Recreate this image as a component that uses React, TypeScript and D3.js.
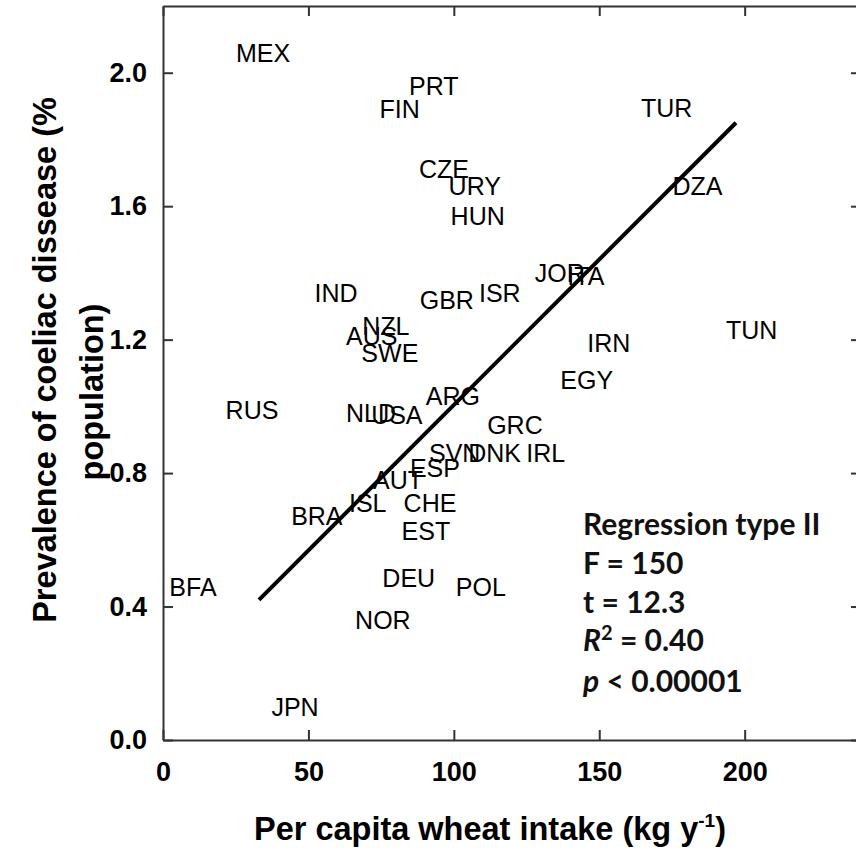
import React, { useEffect, useRef } from 'react';
import * as d3 from 'd3';

// country codes, wheat intake (kg/y) and coeliac prevalence (%)
const countries = ['MEX', 'PRT', 'FIN', 'TUR', 'CZE', 'URY', 'DZA', 'HUN', 'IND', 'GBR', 'ISR', 'JOR', 'ITA', 'NZL', 'AUS', 'SWE', 'TUN', 'IRN', 'EGY', 'RUS', 'ARG', 'NLD', 'USA', 'GRC', 'SVN', 'DNK', 'IRL', 'ESP', 'AUT', 'ISL', 'CHE', 'BRA', 'EST', 'DEU', 'POL', 'BFA', 'NOR', 'JPN'];
const wheat = [34.4, 93.1, 81.4, 173.2, 96.6, 107.2, 183.8, 108.2, 59.5, 97.6, 115.8, 136.4, 145.4, 76.6, 71.8, 78, 202.4, 153.3, 145.7, 30.6, 99.7, 71.5, 80.4, 121, 100.3, 114, 131.6, 93.5, 80.8, 70.4, 91.8, 52.9, 90.4, 84.5, 109.3, 10.3, 75.6, 45.4];
const prevalence = [2.06, 1.96, 1.89, 1.895, 1.71, 1.66, 1.66, 1.57, 1.34, 1.32, 1.34, 1.40, 1.39, 1.24, 1.21, 1.16, 1.23, 1.19, 1.08, 0.99, 1.03, 0.98, 0.975, 0.945, 0.86, 0.86, 0.86, 0.815, 0.78, 0.71, 0.71, 0.67, 0.627, 0.486, 0.46, 0.46, 0.36, 0.10];

// regression (type II) line ends
const lineX = [33, 197];
const lineY = [0.42, 1.85];

const xTicks = [0, 50, 100, 150, 200];
const yTicks = [0, 0.4, 0.8, 1.2, 1.6, 2.0];

export default function App() {
    const ref = useRef<SVGSVGElement>(null);

    useEffect(() => {
        const width = 856, height = 849;
        const margin = { top: 6, right: -5, bottom: 109, left: 163 };

        const x = d3.scaleLinear().domain([0, 240]).range([margin.left, width - margin.right]);
        const y = d3.scaleLinear().domain([0, 2.2]).range([height - margin.bottom, margin.top]);

        const svg = d3.select(ref.current);
        svg.selectAll('*').remove();

        const axisStyle = (g: any) => {
            g.select('.domain').attr('stroke', '#333').attr('stroke-width', 2);
            g.selectAll('.tick line').attr('stroke', '#333').attr('stroke-width', 2);
            g.selectAll('.tick text')
                .attr('fill', '#000')
                .attr('font-family', 'Liberation Sans, Arial, sans-serif')
                .attr('font-weight', 'bold')
                .attr('font-size', 27);
        };

        svg.append('g')
            .attr('transform', `translate(0,${y(0)})`)
            .call(d3.axisBottom(x).tickValues(xTicks).tickSize(-10).tickPadding(22).tickSizeOuter(0).tickFormat(d3.format('d')))
            .call(axisStyle);

        svg.append('g')
            .attr('transform', `translate(${x(0)},0)`)
            .call(d3.axisLeft(y).tickValues(yTicks).tickSize(-10).tickPadding(16).tickSizeOuter(0).tickFormat(d3.format('.1f')))
            .call(axisStyle);

        svg.append('g')
            .attr('transform', `translate(0,${y(2.2)})`)
            .call(d3.axisTop(x).tickValues(xTicks).tickSize(-10).tickSizeOuter(0).tickFormat(() => ''))
            .call(axisStyle);

        svg.append('g')
            .attr('transform', `translate(${x(240)},0)`)
            .call(d3.axisRight(y).tickValues(yTicks).tickSize(-10).tickSizeOuter(0).tickFormat(() => ''))
            .call(axisStyle);

        // regression line
        svg.append('line')
            .attr('x1', x(lineX[0])).attr('y1', y(lineY[0]))
            .attr('x2', x(lineX[1])).attr('y2', y(lineY[1]))
            .attr('stroke', '#000')
            .attr('stroke-width', 4);

        // country labels
        svg.append('g')
            .selectAll('text')
            .data(countries)
            .join('text')
            .attr('x', (_, i) => x(wheat[i]))
            .attr('y', (_, i) => y(prevalence[i]))
            .attr('text-anchor', 'middle')
            .attr('dominant-baseline', 'central')
            .attr('font-family', 'Liberation Sans, Arial, sans-serif')
            .attr('font-size', 25)
            .attr('fill', '#000')
            .text(d => d);

        // axis titles
        svg.append('text')
            .attr('x', 490).attr('y', 840)
            .attr('text-anchor', 'middle')
            .attr('font-family', 'Liberation Sans, Arial, sans-serif')
            .attr('font-weight', 'bold')
            .attr('font-size', 32.5)
            .call(t => {
                t.append('tspan').text('Per capita wheat intake (kg y');
                t.append('tspan').attr('font-size', 19).attr('dy', -13).text('-1');
                t.append('tspan').attr('dy', 13).text(')');
            });

        const yTitle = svg.append('g')
            .attr('font-family', 'Liberation Sans, Arial, sans-serif')
            .attr('font-weight', 'bold')
            .attr('font-size', 32.5)
            .attr('text-anchor', 'middle');
        yTitle.append('text')
            .attr('transform', 'translate(56,360) rotate(-90)')
            .text('Prevalence of coeliac dissease (%');
        yTitle.append('text')
            .attr('transform', 'translate(103,392) rotate(-90)')
            .text('population)');

        // regression stats
        const stats = svg.append('g')
            .attr('font-family', 'Lato, Open Sans, sans-serif')
            .attr('font-weight', 'bold')
            .attr('font-size', 30)
            .attr('fill', '#111');
        stats.append('text').attr('x', 583).attr('y', 535).text('Regression type II');
        stats.append('text').attr('x', 583).attr('y', 574).text('F = 150');
        stats.append('text').attr('x', 583).attr('y', 613).text('t = 12.3');
        stats.append('text').attr('x', 583).attr('y', 651).call(t => {
            t.append('tspan').attr('font-style', 'italic').text('R');
            t.append('tspan').attr('font-size', 20).attr('dy', -11).text('2');
            t.append('tspan').attr('dy', 11).text(' = 0.40');
        });
        stats.append('text').attr('x', 583).attr('y', 692).call(t => {
            t.append('tspan').attr('font-style', 'italic').text('p');
            t.append('tspan').text(' < 0.00001');
        });
    }, []);

    return (
        <svg ref={ref} width={856} height={849}
            style={{ position: 'absolute', left: 0, top: 0, background: '#fff' }} />
    );
}
